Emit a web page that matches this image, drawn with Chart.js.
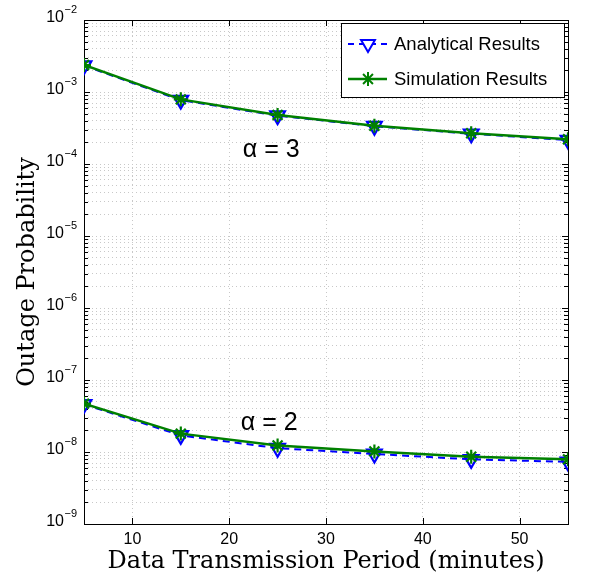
<!DOCTYPE html>
<html>
<head>
<meta charset="utf-8">
<title>Outage Probability</title>
<script src="https://cdn.jsdelivr.net/npm/chart.js@4"></script>
<style>
  body { margin: 0; background: #fff; }
  canvas { display: block; }
</style>
</head>
<body>
<canvas id="outageChart" width="599" height="580"></canvas>
<script>
// values
const periods = [5, 15, 25, 35, 45, 55];
const analyticalA3 = [2.33e-3, 7.7e-4, 4.7e-4, 3.35e-4, 2.63e-4, 2.15e-4];
const simulationA3 = [2.37e-3, 7.9e-4, 4.8e-4, 3.4e-4, 2.67e-4, 2.2e-4];
const analyticalA2 = [4.6e-8, 1.7e-8, 1.13e-8, 9.4e-9, 7.9e-9, 7.3e-9];
const simulationA2 = [4.7e-8, 1.8e-8, 1.23e-8, 1.02e-8, 8.6e-9, 7.9e-9];

const seriesNames = ['Analytical Results', 'Simulation Results'];
const xTickValues = [10, 20, 30, 40, 50];
const decadeExponents = [-9, -8, -7, -6, -5, -4, -3, -2];

// curve labels, placed in data coordinates
const alphaLabels = [
  { text: 'α = 3', x: 21.4, y: 1.56e-4 },
  { text: 'α = 2', x: 21.2, y: 2.5e-8 }
];

const BLUE = '#0000ff';
const GREEN = '#008000';

// 1..9 x 10^e for every decade, plus the top one
const yTickValues = [];
decadeExponents.forEach(function (e, i) {
  if (i === decadeExponents.length - 1) {
    yTickValues.push(Number('1e' + e));
    return;
  }
  for (let m = 1; m <= 9; m++) yTickValues.push(Number(m + 'e' + e));
});

function toPoints(ys) {
  return periods.map(function (x, i) { return { x: x, y: ys[i] }; });
}

function analyticalSet(ys) {
  return {
    label: seriesNames[0],
    data: toPoints(ys),
    borderColor: BLUE,
    borderWidth: 2,
    borderDash: [7, 5],
    pointStyle: 'triangle',
    rotation: 180,
    pointRadius: 8.5,
    pointBorderWidth: 2.2,
    pointBorderColor: BLUE,
    pointBackgroundColor: 'rgba(0,0,0,0)',
    order: 1
  };
}

function simulationSet(ys) {
  return {
    label: seriesNames[1],
    data: toPoints(ys),
    borderColor: GREEN,
    borderWidth: 2.5,
    pointStyle: 'star',
    pointRadius: 7,
    pointBorderWidth: 2.2,
    pointBorderColor: GREEN,
    pointBackgroundColor: GREEN,
    order: 0
  };
}

const frame = {
  id: 'frame',
  beforeDatasetsDraw(chart) {
    const { ctx, chartArea: a, scales } = chart;
    ctx.save();
    ctx.strokeStyle = '#000';
    ctx.lineWidth = 1;
    ctx.beginPath();
    // inside ticks, y
    yTickValues.forEach(function (v) {
      const y = Math.round(scales.y.getPixelForValue(v)) + 0.5;
      const major = Math.abs(Math.log10(v) - Math.round(Math.log10(v))) < 1e-9;
      const len = major ? 6 : 4;
      ctx.moveTo(a.left, y); ctx.lineTo(a.left + len, y);
      ctx.moveTo(a.right, y); ctx.lineTo(a.right - len, y);
    });
    // inside ticks, x
    xTickValues.forEach(function (v) {
      const x = Math.round(scales.x.getPixelForValue(v)) + 0.5;
      ctx.moveTo(x, a.bottom); ctx.lineTo(x, a.bottom - 6);
      ctx.moveTo(x, a.top); ctx.lineTo(x, a.top + 6);
    });
    ctx.stroke();
    ctx.strokeRect(Math.round(a.left) + 0.5, Math.round(a.top) + 0.5,
      Math.round(a.right - a.left), Math.round(a.bottom - a.top));
    ctx.restore();
  },
  afterDraw(chart) {
    const { ctx, chartArea: a, scales } = chart;
    ctx.save();
    ctx.fillStyle = '#000';

    // y tick labels 10^n
    decadeExponents.forEach(function (e) {
      const y = scales.y.getPixelForValue(Number('1e' + e));
      ctx.font = '16px "Liberation Sans", Arial, sans-serif';
      ctx.textAlign = 'right';
      ctx.textBaseline = 'middle';
      ctx.fillText('10', 64, y - 2);
      ctx.font = '11px "Liberation Sans", Arial, sans-serif';
      ctx.textAlign = 'left';
      ctx.fillText('\u2212' + Math.abs(e), 64.5, y - 10);
    });

    // alpha labels
    ctx.font = '25px "Liberation Sans", Arial, sans-serif';
    ctx.textAlign = 'left';
    ctx.textBaseline = 'middle';
    alphaLabels.forEach(function (l) {
      ctx.fillText(l.text, scales.x.getPixelForValue(l.x), scales.y.getPixelForValue(l.y));
    });

    // legend box
    const bx = 341, by = 23, bw = 223, bh = 74;
    ctx.fillStyle = '#fff';
    ctx.fillRect(bx, by, bw, bh);
    ctx.strokeStyle = '#000';
    ctx.lineWidth = 1;
    ctx.strokeRect(bx + 0.5, by + 0.5, bw, bh);

    const rows = [
      { y: by + 21, color: BLUE, dash: [6, 5], width: 2, style: 'triangle', rot: 180, r: 8 },
      { y: by + 56, color: GREEN, dash: [], width: 2.5, style: 'star', rot: 0, r: 7 }
    ];
    rows.forEach(function (row, i) {
      ctx.strokeStyle = row.color;
      ctx.fillStyle = row.color;
      ctx.lineWidth = row.width;
      ctx.setLineDash(row.dash);
      ctx.beginPath();
      ctx.moveTo(bx + 7, row.y);
      ctx.lineTo(bx + 46, row.y);
      ctx.stroke();
      ctx.setLineDash([]);
      ctx.lineWidth = 2;
      if (row.style === 'triangle') {
        ctx.fillStyle = '#fff';
      }
      Chart.helpers.drawPoint(ctx, {
        pointStyle: row.style, rotation: row.rot, radius: row.r, borderWidth: 2
      }, bx + 27, row.y);
      ctx.fillStyle = '#000';
      ctx.font = '18.5px "Liberation Sans", Arial, sans-serif';
      ctx.textAlign = 'left';
      ctx.textBaseline = 'middle';
      ctx.fillText(seriesNames[i], bx + 53, row.y + 1);
    });
    ctx.restore();
  }
};

const ctx = document.getElementById('outageChart').getContext('2d');
new Chart(ctx, {
  type: 'line',
  data: {
    datasets: [
      analyticalSet(analyticalA3),
      simulationSet(simulationA3),
      analyticalSet(analyticalA2),
      simulationSet(simulationA2)
    ]
  },
  options: {
    responsive: false,
    devicePixelRatio: 1,
    animation: false,
    layout: { padding: { left: 0, right: 31, top: 20, bottom: 0 } },
    plugins: {
      legend: { display: false },
      tooltip: { enabled: false }
    },
    scales: {
      x: {
        type: 'linear',
        min: 5,
        max: 55,
        afterBuildTicks: function (scale) {
          scale.ticks = xTickValues.map(function (v) { return { value: v }; });
        },
        afterFit: function (scale) { scale.height = 56; },
        grid: { color: '#c8c8c8', drawTicks: false },
        border: { display: false, dash: [1, 3] },
        ticks: {
          color: '#000',
          padding: 6,
          maxRotation: 0,
          font: { family: '"Liberation Sans", Arial, sans-serif', size: 16 }
        },
        title: {
          display: true,
          text: 'Data Transmission Period (minutes)',
          color: '#000',
          padding: { top: 0, bottom: 4 },
          font: { family: '"DejaVu Serif", serif', size: 24 }
        }
      },
      y: {
        type: 'logarithmic',
        min: 1e-9,
        max: 1e-2,
        afterBuildTicks: function (scale) {
          scale.ticks = yTickValues.map(function (v) { return { value: v }; });
        },
        afterFit: function (scale) { scale.width = 84; },
        grid: { color: '#c8c8c8', drawTicks: false },
        border: { display: false, dash: [1, 3] },
        ticks: { display: false },
        title: {
          display: true,
          text: 'Outage Probability',
          color: '#000',
          padding: { top: 13, bottom: 0 },
          font: { family: '"DejaVu Serif", serif', size: 24 }
        }
      }
    }
  },
  plugins: [frame]
});
</script>
</body>
</html>
